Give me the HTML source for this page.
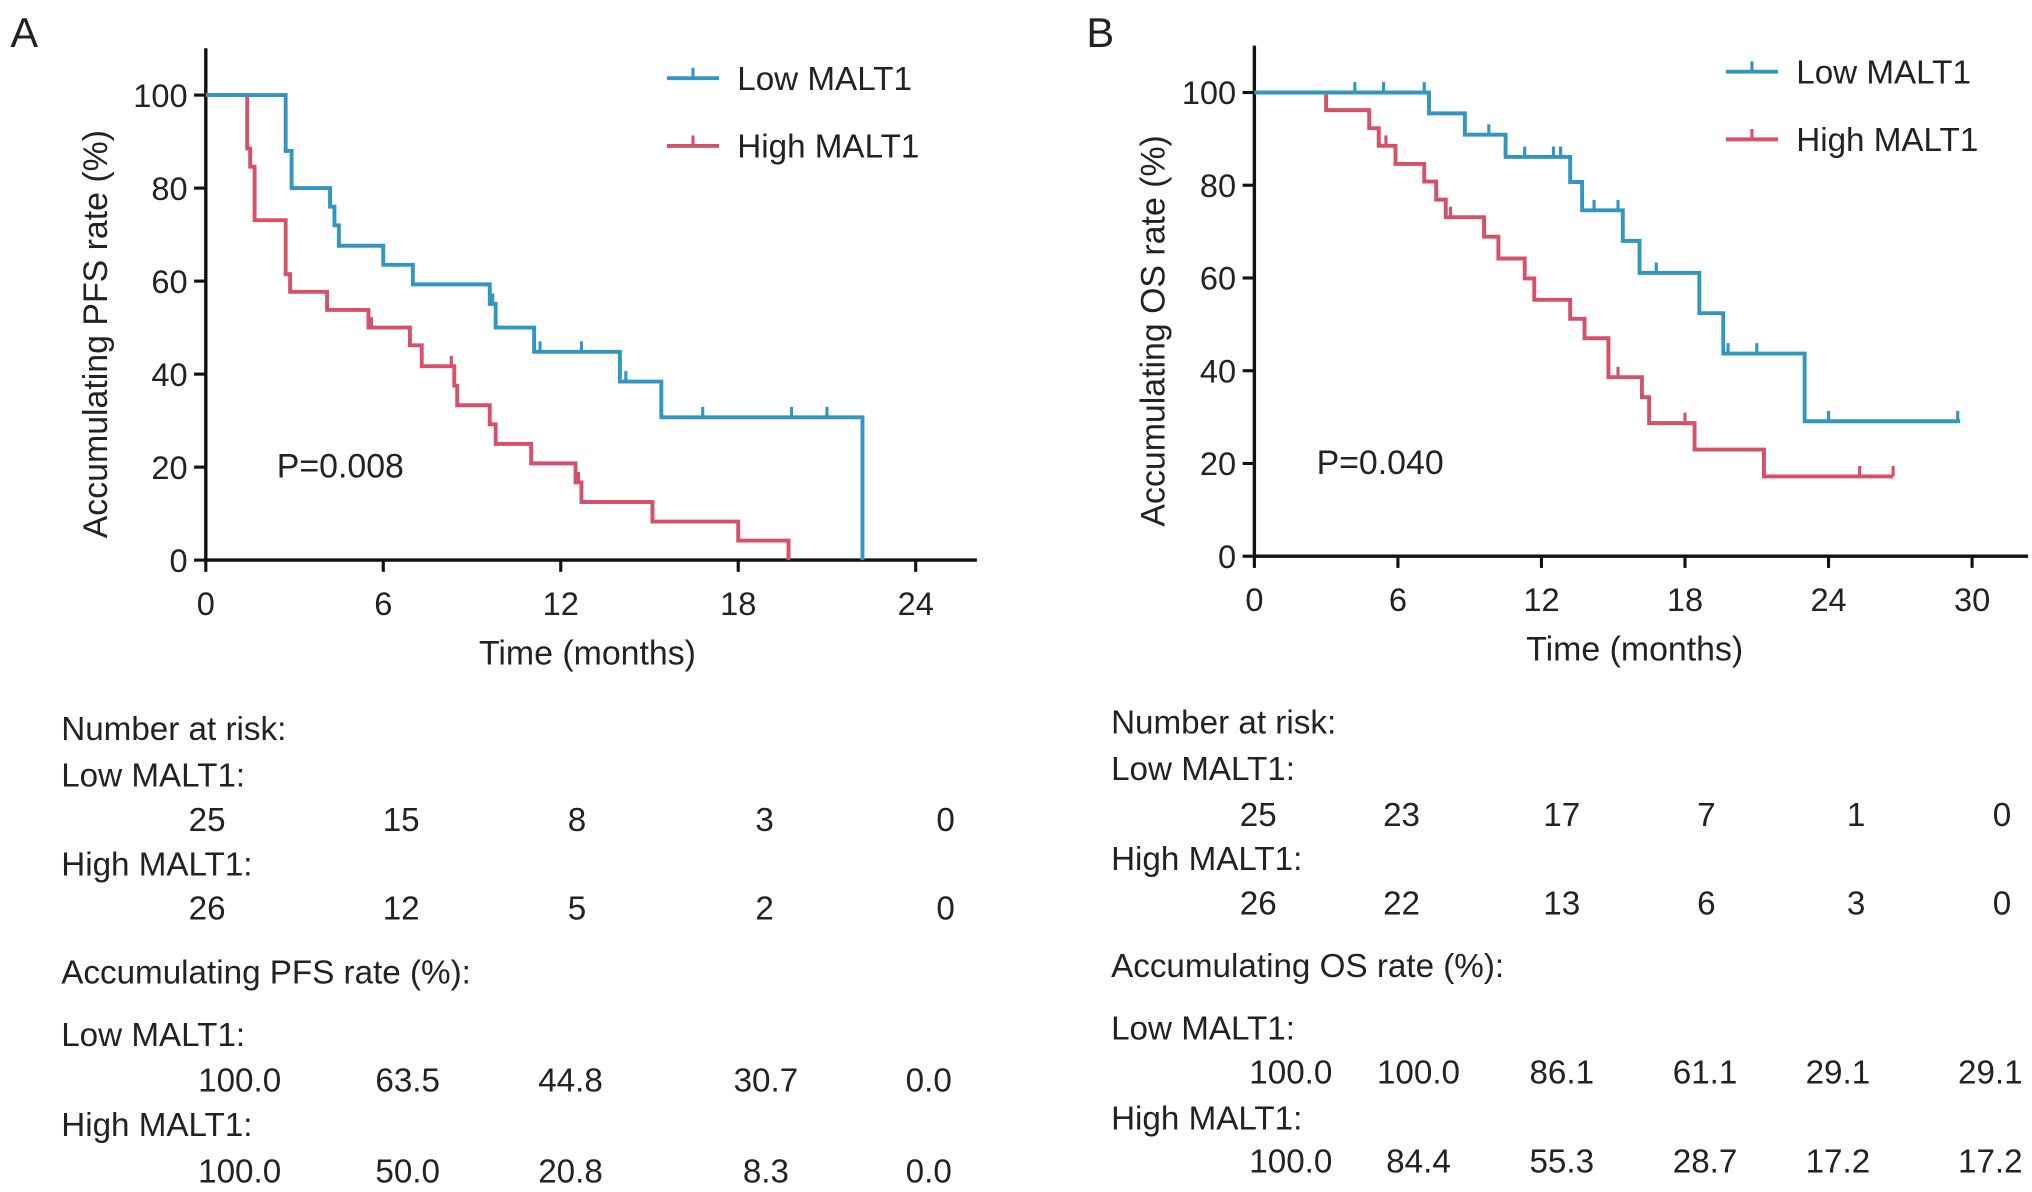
<!DOCTYPE html>
<html><head><meta charset="utf-8"><style>
html,body{margin:0;padding:0;background:#fff}
svg{display:block}
text{font-family:"Liberation Sans",Arial,sans-serif;fill:#222}
</style></head><body>
<svg id="fig" width="2032" height="1192" viewBox="0 0 1560 915.1" xmlns="http://www.w3.org/2000/svg">
<text x="8" y="36" font-size="32">A</text>
<text x="834" y="36" font-size="32">B</text>
<g id="pa"></g>
<g id="pb"></g>
<g id="ta"></g>
<g id="tb"></g>
</svg>
<script>
// Panel A data (PFS)
const aLowTimes=[2.7,2.9,4.2,4.35,4.5,6.0,7.0,9.6,9.8,11.1,14.0,15.4,22.2];
const aLowVals=[88,80,76,72,67.6,63.5,59.3,55.1,50.0,44.8,38.4,30.7,0];
const aLowCens=[9.7,11.3,12.7,14.2,16.8,19.8,21.0];
const aHighTimes=[1.4,1.5,1.65,2.7,2.85,4.1,5.5,6.9,7.3,8.4,8.5,9.6,9.8,11.0,12.5,12.7,15.1,18.0,19.7];
const aHighVals=[88.5,84.6,73.1,61.5,57.7,53.8,50.0,46.2,41.7,37.5,33.3,29.2,25.0,20.8,16.7,12.5,8.3,4.2,0];
const aHighCens=[5.6,8.3,12.6];
const aXTicks=[0,6,12,18,24];
const aYTicks=[0,20,40,60,80,100];
// Panel B data (OS)
const bLowTimes=[7.3,8.8,10.5,13.2,13.7,15.4,16.1,18.6,19.6,23.0];
const bLowVals=[95.5,90.9,86.1,80.7,74.6,68.0,61.1,52.4,43.7,29.1];
const bLowEnd=29.5;
const bLowCens=[4.2,5.4,7.1,9.8,11.3,12.5,12.8,14.2,15.2,16.8,19.8,21.0,24.0,29.4];
const bHighTimes=[3.0,4.8,5.2,5.9,7.1,7.6,8.0,9.6,10.2,11.3,11.7,13.2,13.8,14.8,16.2,16.5,18.4,21.3];
const bHighVals=[96.2,92.3,88.5,84.6,80.8,76.9,73.1,68.9,64.2,59.9,55.3,51.2,47.0,38.6,34.3,28.7,23.0,17.2];
const bHighEnd=26.7;
const bHighCens=[5.5,8.2,15.2,18.0,25.3,26.7];
const bXTicks=[0,6,12,18,24,30];
const bYTicks=[0,20,40,60,80,100];
// Tables
const aRiskLow=["25","15","8","3","0"];
const aRiskHigh=["26","12","5","2","0"];
const aRateLow=["100.0","63.5","44.8","30.7","0.0"];
const aRateHigh=["100.0","50.0","20.8","8.3","0.0"];
const bRiskLow=["25","23","17","7","1","0"];
const bRiskHigh=["26","22","13","6","3","0"];
const bRateLow=["100.0","100.0","86.1","61.1","29.1","29.1"];
const bRateHigh=["100.0","84.4","55.3","28.7","17.2","17.2"];

const NS="http://www.w3.org/2000/svg";
const BLUE="#3296c0",RED="#d6506a";
function mk(parent,tag,attrs,txt){const e=document.createElementNS(NS,tag);for(const k in attrs)e.setAttribute(k,attrs[k]);if(txt!==undefined)e.textContent=txt;parent.appendChild(e);return e;}

function panel(g,cfg){
  const xs=t=>cfg.x0+(t-0)*(cfg.x1-cfg.x0)/cfg.xmax;
  const ys=v=>cfg.y0+(v)*(cfg.y100-cfg.y0)/100;
  let e;
  e=mk(g,'line',{x1:cfg.x0,y1:cfg.top,x2:cfg.x0,y2:cfg.y0+1,stroke:'#111','stroke-width':2.6});
  
  e=mk(g,'line',{x1:cfg.x0-1,y1:cfg.y0,x2:cfg.right,y2:cfg.y0,stroke:'#111','stroke-width':2.6});
  
  cfg.xt.forEach(t=>{
    const l=mk(g,'line',{x1:xs(t),y1:cfg.y0,x2:xs(t),y2:cfg.y0+9,stroke:'#111','stroke-width':2.4});
    
    const tx=mk(g,'text',{x:xs(t),y:cfg.y0+42,'font-size':25,'text-anchor':'middle'},String(t));
    
  });
  cfg.yt.forEach(v=>{
    const l=mk(g,'line',{x1:cfg.x0-9,y1:ys(v),x2:cfg.x0,y2:ys(v),stroke:'#111','stroke-width':2.4});
    
    const tx=mk(g,'text',{x:cfg.x0-14,y:ys(v)+9,'font-size':25,'text-anchor':'end'},String(v));
    
  });
  e=mk(g,'text',{x:(cfg.x0+cfg.xtitleC),y:cfg.y0+80,'font-size':26,'text-anchor':'middle'},'Time (months)');
  
  const cy=(cfg.y0+cfg.y100)/2+5;
  e=mk(g,'text',{x:0,y:0,'font-size':26,'text-anchor':'middle',transform:`translate(${cfg.ytX},${cy}) rotate(-90)`},cfg.ytitle);
  
  e=mk(g,'text',{x:xs(cfg.pX),y:ys(20)+8,'font-size':26},cfg.p);
  
  function curve(times,vals,end,cens,color,name){
    let d=`M${xs(0)},${ys(100)}`;
    times.forEach((t,i)=>{d+=` H${xs(t)} V${ys(vals[i])}`;});
    if(end!==null) d+=` H${xs(end)}`;
    const p=mk(g,'path',{d:d,fill:'none',stroke:color,'stroke-width':3,'stroke-linejoin':'miter'});
    
    cens.forEach(c=>{
      let v=100;times.forEach((t,i)=>{if(t<=c)v=vals[i];});
      const l=mk(g,'line',{x1:xs(c),y1:ys(v),x2:xs(c),y2:ys(v)-8,stroke:color,'stroke-width':2.4});
      
    });
  }
  curve(cfg.hT,cfg.hV,cfg.hE,cfg.hC,RED,'high-malt1');
  curve(cfg.lT,cfg.lV,cfg.lE,cfg.lC,BLUE,'low-malt1');
  [[BLUE,'Low MALT1',cfg.legY],[RED,'High MALT1',cfg.legY+52]].forEach(([c,lab,y],i)=>{
    const gg=mk(g,'g',{});
    
    mk(gg,'line',{x1:cfg.legX,y1:y,x2:cfg.legX+40,y2:y,stroke:c,'stroke-width':3});
    mk(gg,'line',{x1:cfg.legX+20,y1:y,x2:cfg.legX+20,y2:y-8,stroke:c,'stroke-width':2.4});
    mk(gg,'text',{x:cfg.legX+54,y:y+9,'font-size':25.5},lab);
  });
}
panel(document.getElementById('pa'),{x0:158,x1:703,xmax:24,y0:430,y100:73,top:37,right:750,xt:aXTicks,yt:aYTicks,
  lT:aLowTimes,lV:aLowVals,lE:null,lC:aLowCens,hT:aHighTimes,hV:aHighVals,hE:null,hC:aHighCens,
  ytitle:'Accumulating PFS rate (%)',ytX:82,xtitleC:293,p:'P=0.008',pX:2.4,legX:512,legY:60});
panel(document.getElementById('pb'),{x0:963,x1:1514,xmax:30,y0:427,y100:71,top:35,right:1557,xt:bXTicks,yt:bYTicks,
  lT:bLowTimes,lV:bLowVals,lE:bLowEnd,lC:bLowCens,hT:bHighTimes,hV:bHighVals,hE:bHighEnd,hC:bHighCens,
  ytitle:'Accumulating OS rate (%)',ytX:894,xtitleC:292,p:'P=0.040',pX:2.6,legX:1325,legY:55});

function table(g,cfg){
  function t(x,y,s,anchor,name){const e=mk(g,'text',{x:x,y:y+8,'font-size':25.5,'text-anchor':anchor},s);
    }
  t(cfg.x,cfg.rows[0],'Number at risk:','start','number-at-risk-heading');
  t(cfg.x,cfg.rows[1],'Low MALT1:','start','risk-low-label');
  cfg.rl.forEach((s,i)=>t(cfg.rc[i],cfg.rows[2],s,'middle','risk-low-value'));
  t(cfg.x,cfg.rows[3],'High MALT1:','start','risk-high-label');
  cfg.rh.forEach((s,i)=>t(cfg.rc[i],cfg.rows[4],s,'middle','risk-high-value'));
  t(cfg.x,cfg.rows[5],cfg.head,'start','rate-heading');
  t(cfg.x,cfg.rows[6],'Low MALT1:','start','rate-low-label');
  cfg.vl.forEach((s,i)=>t(cfg.vc[i],cfg.rows[7],s,'middle','rate-low-value'));
  t(cfg.x,cfg.rows[8],'High MALT1:','start','rate-high-label');
  cfg.vh.forEach((s,i)=>t(cfg.vc[i],cfg.rows[9],s,'middle','rate-high-value'));
}
table(document.getElementById('ta'),{x:47,rows:[560,596,630,664,698,747,795,830,864,900],
  rc:[159,308,443,587,726],vc:[184,313,438,588,713],rl:aRiskLow,rh:aRiskHigh,vl:aRateLow,vh:aRateHigh,head:'Accumulating PFS rate (%):'});
table(document.getElementById('tb'),{x:853,rows:[555,591,626,660,694,742,790,824,859,892],
  rc:[966,1076,1199,1310,1425,1537],vc:[991,1089,1199,1309,1411,1528],rl:bRiskLow,rh:bRiskHigh,vl:bRateLow,vh:bRateHigh,head:'Accumulating OS rate (%):'});
</script>
</body></html>
